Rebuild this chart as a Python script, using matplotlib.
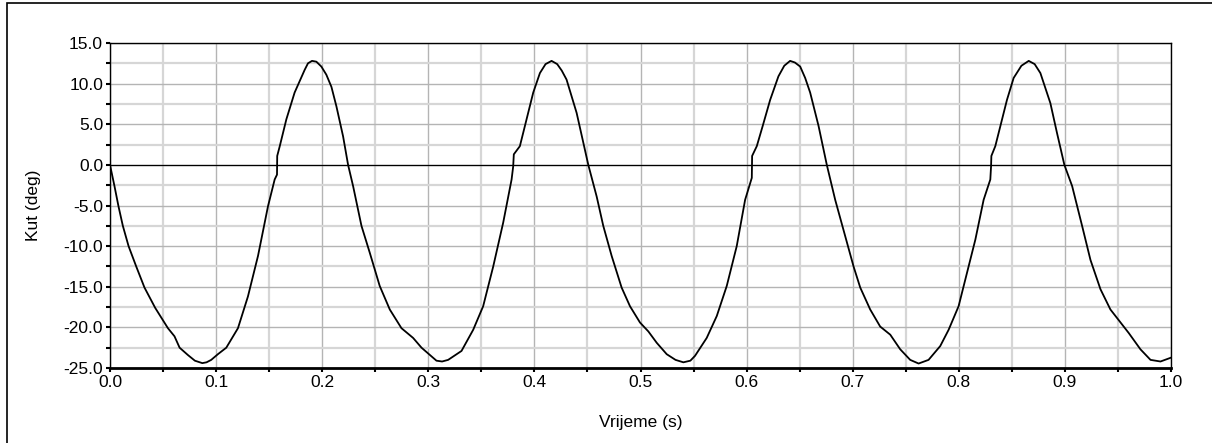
import matplotlib
matplotlib.use("Agg")
import matplotlib.pyplot as plt
from matplotlib.patches import Rectangle
from matplotlib.ticker import MultipleLocator, FormatStrFormatter

plt.rcParams['font.family'] = ['Liberation Sans', 'DejaVu Sans']

# time (s) and angle (deg)
vrijeme = [0.0, 0.0042, 0.008, 0.0121, 0.0175, 0.0247, 0.0325, 0.0426, 0.0546,
           0.0608, 0.0656, 0.0734, 0.080, 0.087, 0.091, 0.0954, 0.1017, 0.1096,
           0.1206, 0.130, 0.1395, 0.1489, 0.1552, 0.1574, 0.1576, 0.160, 0.1662,
           0.174, 0.1835, 0.1866, 0.1904, 0.1945, 0.1992, 0.2039, 0.2087, 0.2134,
           0.2197, 0.2244, 0.2291, 0.237, 0.2448, 0.2542, 0.2637, 0.2747, 0.2857,
           0.2936, 0.3077, 0.3130, 0.3187, 0.3313, 0.3423, 0.3517, 0.3612, 0.3706,
           0.3785, 0.380, 0.3806, 0.3863, 0.3926, 0.3989, 0.4052, 0.4105, 0.4162,
           0.4215, 0.4258, 0.4303, 0.4398, 0.4508, 0.4587, 0.4649, 0.4728, 0.4822,
           0.4901, 0.4995, 0.5074, 0.5153, 0.5247, 0.533, 0.5404, 0.547, 0.5514,
           0.5624, 0.5719, 0.5813, 0.5907, 0.5986, 0.6049, 0.6052, 0.6096, 0.6152,
           0.6222, 0.630, 0.6355, 0.641, 0.6455, 0.6505, 0.6552, 0.6599, 0.6678,
           0.6756, 0.6835, 0.6913, 0.7008, 0.7071, 0.7165, 0.7259, 0.7354, 0.7448,
           0.7542, 0.7621, 0.7715, 0.7825, 0.7904, 0.7998, 0.8077, 0.8156, 0.8234,
           0.8297, 0.8304, 0.8307, 0.8344, 0.8392, 0.8454, 0.8517, 0.8590, 0.8659,
           0.8715, 0.8769, 0.8863, 0.8926, 0.8995, 0.9068, 0.9162, 0.9241, 0.9335,
           0.9429, 0.9524, 0.9602, 0.9712, 0.9807, 0.9901, 0.9995]
kut = [0.0, -2.6, -5.1, -7.5, -10.0, -12.5, -15.1, -17.6, -20.1,
       -21.1, -22.5, -23.4, -24.1, -24.4, -24.3, -24.0, -23.3, -22.5,
       -20.1, -16.2, -11.2, -5.1, -1.8, -1.2, 1.1, 2.3, 5.6,
       8.9, 11.7, 12.5, 12.8, 12.7, 12.1, 11.1, 9.6, 7.2,
       3.5, 0.0, -2.6, -7.5, -10.8, -14.9, -17.8, -20.1, -21.3,
       -22.5, -24.1, -24.2, -24.0, -22.9, -20.3, -17.4, -12.5, -7.1,
       -1.8, -0.2, 1.3, 2.3, 5.6, 8.9, 11.3, 12.4, 12.8,
       12.4, 11.6, 10.5, 6.4, 0.0, -3.9, -7.5, -11.2, -15.1,
       -17.4, -19.4, -20.5, -21.9, -23.3, -24.0, -24.3, -24.1, -23.5,
       -21.3, -18.6, -14.9, -10.0, -4.3, -1.6, 1.1, 2.3, 4.8,
       8.0, 10.9, 12.2, 12.8, 12.6, 12.1, 10.7, 8.9, 4.8,
       0.0, -4.3, -8.0, -12.5, -15.1, -17.8, -19.9, -20.9, -22.7,
       -24.0, -24.45, -24.0, -22.3, -20.3, -17.4, -13.3, -9.2, -4.3,
       -1.8, -0.2, 1.1, 2.3, 4.8, 8.0, 10.7, 12.2, 12.8,
       12.4, 11.3, 7.6, 3.9, 0.0, -2.6, -7.5, -11.7, -15.3,
       -17.8, -19.4, -20.7, -22.7, -24.0, -24.2, -23.75]

fig = plt.figure(figsize=(12.12, 4.43), dpi=100)
ax = fig.add_axes([110/1212, 1 - 368/443, 1061/1212, 325/443])

# light minor grid, darker major grid
ax.xaxis.set_major_locator(MultipleLocator(0.1))
ax.xaxis.set_minor_locator(MultipleLocator(0.05))
ax.yaxis.set_major_locator(MultipleLocator(5))
ax.yaxis.set_minor_locator(MultipleLocator(2.5))
ax.grid(which='major', color='#b4b4b4', linewidth=1.0)
ax.grid(which='minor', color='#d6d6d6', linewidth=1.6)
ax.set_axisbelow(True)

ax.axhline(0, color='black', linewidth=0.9, zorder=2)
ax.plot(vrijeme, kut, color='black', linewidth=1.3, zorder=3,
        solid_joinstyle='round')

ax.set_xlim(0, 1.0)
ax.set_ylim(-25, 15)
ax.xaxis.set_major_formatter(FormatStrFormatter('%.1f'))
ax.yaxis.set_major_formatter(FormatStrFormatter('%.1f'))

for s in ['top', 'right', 'left']:
    ax.spines[s].set_linewidth(1.0)
ax.spines['bottom'].set_linewidth(2.0)

ax.tick_params(which='both', direction='out', length=3, width=1.5, color='black',
               labelsize=12.5, pad=2)

ax.set_xlabel('Vrijeme (s)', fontsize=12.5, labelpad=18)
ax.set_ylabel('Kut (deg)', fontsize=12.5, labelpad=16)

# frame round the whole figure
fig.patches.append(Rectangle((7/1212, -0.1), 1.2, 1.1 - 3/443, transform=fig.transFigure,
                             fill=False, edgecolor='black', linewidth=1.2))

fig.savefig('out.png', dpi=100)
